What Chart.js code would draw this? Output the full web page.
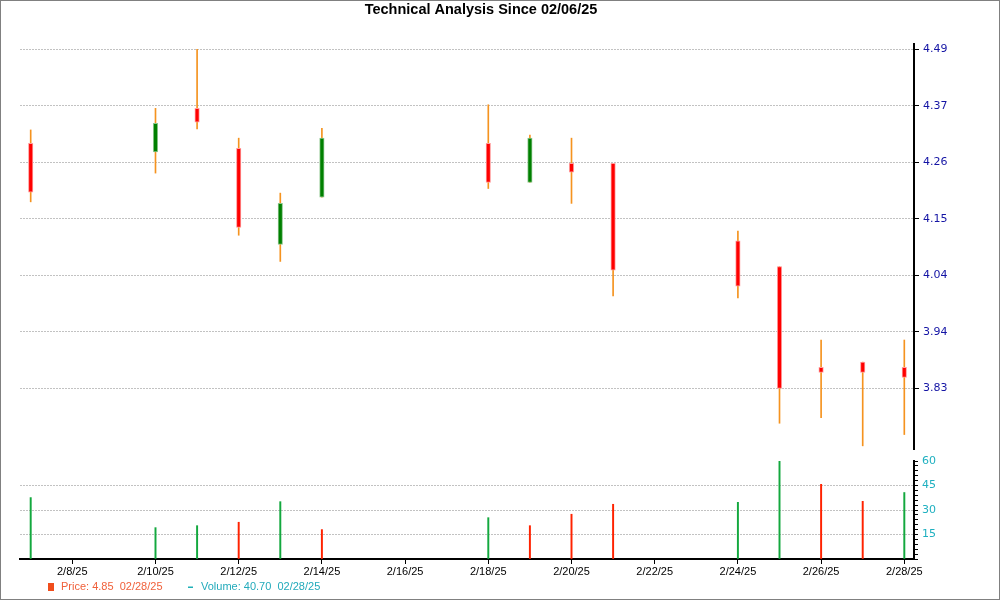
<!DOCTYPE html>
<html>
<head>
<meta charset="utf-8">
<title>Technical Analysis Since 02/06/25</title>
<script src="https://cdn.jsdelivr.net/npm/chart.js@4.4.1/dist/chart.umd.min.js"></script>
<style>
    html, body { margin: 0; padding: 0; background: #fff; }
    #wrap { position: relative; width: 1000px; height: 600px; background: #fff; }
    #price-chart { position: absolute; left: 0; top: 0; }
    #volume-chart { position: absolute; left: 0; top: 450px; }
    #frame { position: absolute; left: 0; top: 0; width: 1000px; height: 600px; box-sizing: border-box; border: 1px solid #808080; pointer-events: none; }
</style>
</head>
<body>
<div id="wrap">
    <canvas id="price-chart" width="1000" height="450"></canvas>
    <canvas id="volume-chart" width="1000" height="150"></canvas>
    <div id="frame"></div>
</div>
<script>
// --- data ---
const dates = ['2/7/25', '2/10/25', '2/11/25', '2/12/25', '2/13/25', '2/14/25', '2/18/25', '2/19/25',
               '2/20/25', '2/21/25', '2/24/25', '2/25/25', '2/26/25', '2/27/25', '2/28/25'];
const openPx  = [4.307, 4.290, 4.375, 4.297, 4.110, 4.202, 4.307, 4.231, 4.268, 4.268, 4.117, 4.067, 3.871, 3.881, 3.871];
const highPx  = [4.333, 4.375, 4.490, 4.317, 4.210, 4.336, 4.382, 4.323, 4.317, 4.268, 4.136, 4.067, 3.924, 3.881, 3.924];
const lowPx   = [4.193, 4.249, 4.335, 4.128, 4.077, 4.202, 4.219, 4.231, 4.190, 4.010, 4.006, 3.762, 3.773, 3.718, 3.740];
const closePx = [4.212, 4.346, 4.348, 4.143, 4.190, 4.317, 4.231, 4.317, 4.251, 4.060, 4.029, 3.830, 3.861, 3.861, 3.851];
const volume  = [37.6, 19.2, 20.4, 22.5, 35.1, 18.0, 25.3, 20.4, 27.4, 33.5, 34.7, 60.0, 45.7, 35.3, 40.7];
const volumeUp = [true, true, true, false, true, false, true, false, false, false, true, true, false, false, true];

const priceTicks = [3.83, 3.94, 4.05, 4.16, 4.27, 4.38, 4.49];
const priceTickLabels = ['3.83', '3.94', '4.04', '4.15', '4.26', '4.37', '4.49'];
const volumeTicks = [0, 3, 6, 9, 12, 15, 18, 21, 24, 27, 30, 33, 36, 39, 42, 45, 48, 51, 54, 57, 60];
const xTickDays = [8, 10, 12, 14, 16, 18, 20, 22, 24, 26, 28];
const xTickLabels = ['2/8/25', '2/10/25', '2/12/25', '2/14/25', '2/16/25', '2/18/25', '2/20/25', '2/22/25', '2/24/25', '2/26/25', '2/28/25'];

const titleText = 'Technical Analysis Since 02/06/25';
const priceLegendText = 'Price: 4.85  02/28/25';
const volumeLegendText = 'Volume: 40.70  02/28/25';

// --- styles ---
const X_MIN = 6.743;
const X_MAX = 28.233;
const RIGHT_AXIS_WIDTH = 86;
const GRID = '#c2c2c2';
const GRID_DASH = [2, 1];
const WICK = '#f5931f';
const UP = '#008000', UP_EDGE = '#8cc58c';
const DOWN = '#ff0000', DOWN_EDGE = '#ff9c9c';
const VOL_UP = '#13a83e', VOL_DOWN = '#ff2200';
const PRICE_LABEL = '#1414a4';
const VOLUME_LABEL = '#1fb0c0';

const dayOf = d => Number(d.split('/')[1]);
const isUp = i => closePx[i] >= openPx[i];

function fixRightAxis(scale) {
    scale.width = RIGHT_AXIS_WIDTH;
    scale.paddingTop = 0;
    scale.paddingBottom = 0;
}

const titlePlugin = {
    id: 'titleText',
    afterDraw(chart) {
        const ctx = chart.ctx;
        ctx.save();
        ctx.font = 'bold 14.5px "Liberation Sans", Arial, sans-serif';
        ctx.fillStyle = '#000';
        ctx.textAlign = 'center';
        ctx.textBaseline = 'alphabetic';
        ctx.fillText(titleText, 481, 14);
        ctx.restore();
    }
};

const legendPlugin = {
    id: 'bottomLegend',
    afterDraw(chart) {
        const ctx = chart.ctx;
        const y = 137;
        ctx.save();
        ctx.font = '11px "Liberation Sans", Arial, sans-serif';
        ctx.textBaseline = 'middle';
        ctx.textAlign = 'left';
        ctx.fillStyle = '#f04d1c';
        ctx.fillRect(48, y - 4, 6, 8);
        ctx.fillStyle = '#f0603a';
        ctx.fillText(priceLegendText, 61, y);
        ctx.fillStyle = '#1fb0b8';
        ctx.fillRect(188, y - 0.5, 5, 1.5);
        ctx.fillStyle = '#22aabb';
        ctx.fillText(volumeLegendText, 201, y);
        ctx.restore();
    }
};

new Chart(document.getElementById('price-chart'), {
    type: 'bar',
    data: {
        datasets: [{
            label: 'Body',
            data: dates.map((d, i) => ({ x: dayOf(d), y: [openPx[i], closePx[i]] })),
            backgroundColor: dates.map((d, i) => isUp(i) ? UP : DOWN),
            borderColor: dates.map((d, i) => isUp(i) ? UP_EDGE : DOWN_EDGE),
            borderWidth: 1,
            borderSkipped: false,
            barThickness: 4.5,
            grouped: false,
            order: 1
        }, {
            label: 'Wick',
            data: dates.map((d, i) => ({ x: dayOf(d), y: [lowPx[i], highPx[i]] })),
            backgroundColor: WICK,
            borderWidth: 0,
            barThickness: 1,
            grouped: false,
            order: 2
        }]
    },
    options: {
        responsive: false,
        animation: false,
        layout: { padding: { left: 20, top: 44, right: 0, bottom: 0 } },
        plugins: { legend: { display: false }, tooltip: { enabled: false } },
        scales: {
            x: { type: 'linear', min: X_MIN, max: X_MAX, display: false, offset: false, grid: { offset: false } },
            y: {
                position: 'right',
                min: 3.7099,
                max: 4.5003,
                afterBuildTicks: s => { s.ticks = priceTicks.map(v => ({ value: v })); },
                afterFit: fixRightAxis,
                ticks: {
                    callback: (v, i) => priceTickLabels[i],
                    color: PRICE_LABEL,
                    font: { family: 'DejaVu Sans', size: 11 },
                    padding: 4,
                    autoSkip: false
                },
                grid: { color: GRID, lineWidth: 1, tickColor: '#000', tickLength: 5, tickWidth: 1 },
                border: { display: true, color: '#000', width: 2, dash: GRID_DASH }
            }
        }
    },
    plugins: [titlePlugin]
});

new Chart(document.getElementById('volume-chart'), {
    type: 'bar',
    data: {
        datasets: [{
            label: 'Volume',
            data: dates.map((d, i) => ({ x: dayOf(d), y: volume[i] })),
            backgroundColor: volumeUp.map(u => u ? VOL_UP : VOL_DOWN),
            borderWidth: 0,
            barThickness: 1.3,
            grouped: false
        }]
    },
    options: {
        responsive: false,
        animation: false,
        layout: { padding: { left: 20, top: 11, right: 0, bottom: 0 } },
        plugins: { legend: { display: false }, tooltip: { enabled: false } },
        scales: {
            x: {
                type: 'linear',
                min: X_MIN,
                max: X_MAX,
                offset: false,
                afterBuildTicks: s => { s.ticks = xTickDays.map(v => ({ value: v })); },
                afterFit: s => { s.height = 41; s.paddingLeft = 0; s.paddingRight = 0; },
                ticks: {
                    callback: (v, i) => xTickLabels[i],
                    autoSkip: false,
                    maxRotation: 0,
                    color: '#000',
                    font: { family: 'Liberation Sans', size: 11 },
                    padding: 1
                },
                grid: { offset: false, drawOnChartArea: false, tickColor: '#000', tickLength: 5 },
                border: { color: '#000', width: 2 }
            },
            y: {
                position: 'right',
                min: 0,
                max: 60,
                afterBuildTicks: s => { s.ticks = volumeTicks.map(v => ({ value: v })); },
                afterFit: fixRightAxis,
                ticks: {
                    callback: v => (v % 15 === 0 && v > 0) ? String(v) : '',
                    color: VOLUME_LABEL,
                    font: { family: 'DejaVu Sans', size: 11 },
                    padding: 4,
                    autoSkip: false
                },
                grid: {
                    color: c => (c.tick && c.tick.value % 15 === 0 && c.tick.value > 0 && c.tick.value < 60) ? GRID : 'rgba(0,0,0,0)',
                    tickColor: '#000',
                    tickLength: 4
                },
                border: { display: true, color: '#000', width: 2, dash: GRID_DASH }
            }
        }
    },
    plugins: [legendPlugin]
});
</script>
</body>
</html>
